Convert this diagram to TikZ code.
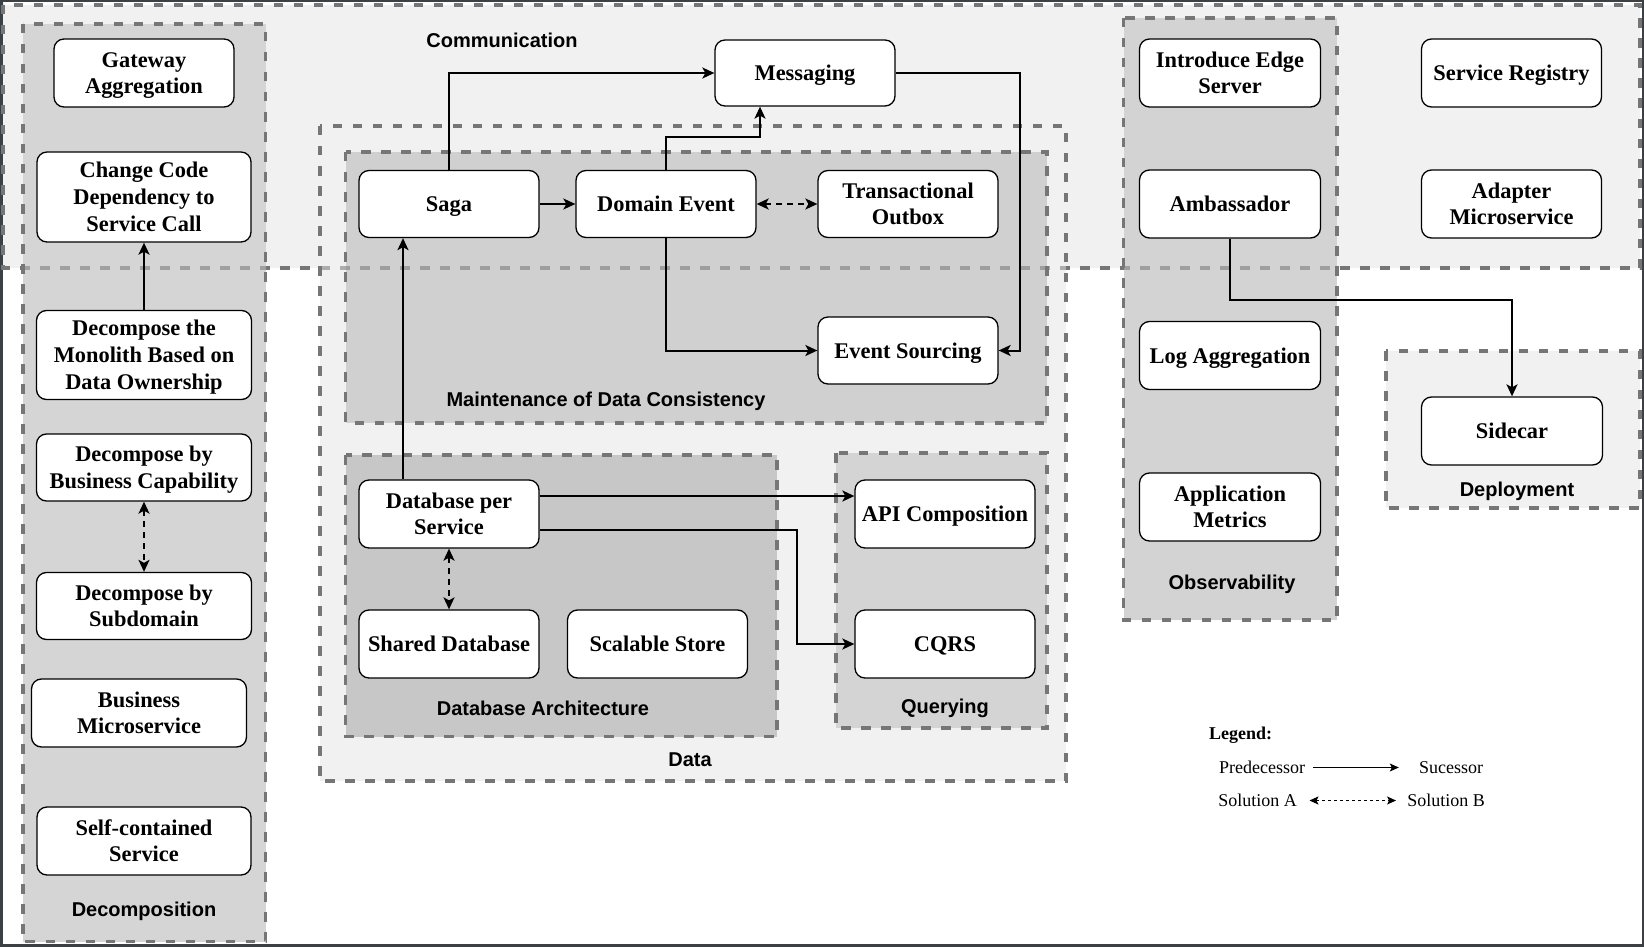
\documentclass[tikz,border=0pt]{standalone}
\usepackage{fontspec}
\setmainfont{Liberation Serif}
\newfontfamily\lsans{Liberation Sans}
\usetikzlibrary{arrows.meta,calc}
\definecolor{framec}{HTML}{3B4045}
\definecolor{lightfill}{HTML}{F1F1F1}
\definecolor{decfill}{HTML}{D5D5D5}
\definecolor{maintfill}{HTML}{D0D0D0}
\definecolor{dbfill}{HTML}{C7C7C7}
\definecolor{qfill}{HTML}{D4D4D4}
\definecolor{obsfill}{HTML}{D3D3D3}
\definecolor{regline}{HTML}{767676}
\newcommand\bst{\rule[-5.85pt]{0pt}{26.7pt}}
\begin{document}
\begin{tikzpicture}[x=1pt,y=-1pt,
  region/.style={draw=regline, line width=3.2pt, dash pattern=on 9.5pt off 10.5pt},
  box/.style={draw=black, line width=1.3pt, rounded corners=10pt, fill=white, align=center, inner sep=0pt,
    font=\fontsize{22.4}{26.7}\selectfont\bfseries},
  glabel/.style={font=\lsans\fontsize{20}{24}\selectfont\bfseries, inner sep=0pt},
  legtext/.style={font=\fontsize{18}{21}\selectfont, inner sep=0pt},
  arr/.style={line width=2pt, -{Stealth[length=12pt,width=11pt,inset=3pt]}},
  darr/.style={line width=2pt, dash pattern=on 6pt off 5pt,
    {Stealth[length=12pt,width=11pt,inset=3pt]}-{Stealth[length=12pt,width=11pt,inset=3pt]}},
  larr/.style={line width=1.2pt, -{Stealth[length=9pt,width=8pt,inset=2pt]}},
  ldarr/.style={line width=1.2pt, dash pattern=on 3pt off 3pt,
    {Stealth[length=9pt,width=8pt,inset=2pt]}-{Stealth[length=9pt,width=8pt,inset=2pt]}},
]
\useasboundingbox (0,0) rectangle (1644,947);
% frame
\fill[framec] (0,0) rectangle (1644,947);
\fill[white] (2.5,2.5) rectangle (1641.5,944);

% regions
\filldraw[region, fill=lightfill] (3,5) rectangle (1640,268);
\filldraw[region, fill=decfill] (23,24) rectangle (265.5,941.5);
\filldraw[region, fill=lightfill] (320,126) rectangle (1066,781);
\filldraw[region, fill=maintfill] (345.5,152) rectangle (1047,423);
\filldraw[region, fill=dbfill] (345.5,455) rectangle (777,736.5);
\filldraw[region, fill=qfill] (836,453) rectangle (1047,728);
\filldraw[region, fill=obsfill] (1123.5,18) rectangle (1337,620);
\filldraw[region, fill=lightfill] (1386,351) rectangle (1640,508);
\draw[region, draw opacity=0.55] (3,5) rectangle (1640,268);

% group labels
\node[glabel] (lcomm) at (502,40) {Communication};
\node[glabel] (ldec) at (144,911) {Decomposition};
\node[glabel] (ldata) at (690,760) {Data};
\node[glabel] (lmaint) at (606,401) {Maintenance of Data Consistency};
\node[glabel] (ldb) at (543,708.5) {Database Architecture};
\node[glabel] (lq) at (945,708) {Querying};
\node[glabel] (lobs) at (1232,584) {Observability};
\node[glabel] (ldep) at (1517,491) {Deployment};

% decomposition nodes
\node[box, minimum width=180pt, minimum height=68pt] (gw) at (144,73) {\bst Gateway\\\bst Aggregation};
\node[box, minimum width=214pt, minimum height=90pt] (cc) at (144,197) {\bst Change Code\\\bst Dependency to\\\bst Service Call};
\node[box, minimum width=215pt, minimum height=89pt] (mono) at (144,355) {\bst Decompose the\\\bst Monolith Based on\\\bst Data Ownership};
\node[box, minimum width=215pt, minimum height=67pt] (bc) at (144,467.5) {\bst Decompose by\\\bst Business Capability};
\node[box, minimum width=215pt, minimum height=67pt] (sd) at (144,606) {\bst Decompose by\\\bst Subdomain};
\node[box, minimum width=215pt, minimum height=68pt] (bm) at (139,713) {\bst Business\\\bst Microservice};
\node[box, minimum width=214pt, minimum height=68pt] (sc) at (144,841) {\bst Self-contained\\\bst Service};

% communication / data nodes
\node[box, minimum width=180pt, minimum height=66pt] (msg) at (805,73) {\bst Messaging};
\node[box, minimum width=180pt, minimum height=67pt] (saga) at (449,204) {\bst Saga};
\node[box, minimum width=180pt, minimum height=67pt] (de) at (666,204) {\bst Domain Event};
\node[box, minimum width=180pt, minimum height=67pt] (to) at (908,204) {\bst Transactional\\\bst Outbox};
\node[box, minimum width=180pt, minimum height=67pt] (es) at (908,350.5) {\bst Event Sourcing};
\node[box, minimum width=180pt, minimum height=68pt] (dbps) at (449,514) {\bst Database per\\\bst Service};
\node[box, minimum width=180pt, minimum height=68pt] (shdb) at (449,644) {\bst Shared Database};
\node[box, minimum width=180pt, minimum height=68pt] (ss) at (657.5,644) {\bst Scalable Store};
\node[box, minimum width=180pt, minimum height=68pt] (api) at (945,514) {\bst API Composition};
\node[box, minimum width=180pt, minimum height=68pt] (cqrs) at (945,644) {\bst CQRS};

% observability / other nodes
\node[box, minimum width=181pt, minimum height=68pt] (ies) at (1230,73) {\bst Introduce Edge\\\bst Server};
\node[box, minimum width=181pt, minimum height=68pt] (amb) at (1230,204) {\bst Ambassador};
\node[box, minimum width=181pt, minimum height=68pt] (log) at (1230,355.5) {\bst Log Aggregation};
\node[box, minimum width=181pt, minimum height=68pt] (am) at (1230,507) {\bst Application\\\bst Metrics};
\node[box, minimum width=180pt, minimum height=68pt] (sr) at (1511.5,73) {\bst Service Registry};
\node[box, minimum width=180pt, minimum height=68pt] (adapt) at (1511.5,204) {\bst Adapter\\\bst Microservice};
\node[box, minimum width=181pt, minimum height=68pt] (side) at (1512,431) {\bst Sidecar};

% connectors
\draw[arr] (mono.north) -- (cc.south);
\draw[darr] (bc.south) -- (sd.north);
\draw[arr] (saga.north) |- (msg.west);
\draw[arr] (de.north) -- ++(0,-33) -| ($(msg.south)+(-45,0)$);
\draw[arr] (msg.east) -- ++(124.5,0) |- (es.east);
\draw[arr] (saga.east) -- (de.west);
\draw[darr] (de.east) -- (to.west);
\draw[arr] (de.south) |- (es.west);
\draw[arr] ($(dbps.north)+(-46,0)$) -- ($(saga.south)+(-46,0)$);
\draw[arr] ($(dbps.east)+(0,-18)$) -- ($(api.west)+(0,-18)$);
\draw[arr] ($(dbps.east)+(0,16)$) -- ++(257.5,0) |- (cqrs.west);
\draw[darr] (dbps.south) -- (shdb.north);
\draw[arr] (amb.south) -- ++(0,61.5) -| (side.north);

% legend
\node[legtext, anchor=west, font=\fontsize{18}{21}\selectfont\bfseries] (lg) at (1209,735) {Legend:};
\node[legtext] (pred) at (1262,767.5) {Predecessor};
\node[legtext] (succ) at (1451,767.5) {Sucessor};
\node[legtext] (sola) at (1257.5,800.5) {Solution A};
\node[legtext] (solb) at (1446,800.5) {Solution B};
\draw[larr] ([xshift=8pt]pred.east) -- ([xshift=-20pt]succ.west);
\draw[ldarr] ([xshift=12.5pt]sola.east) -- ([xshift=-11pt]solb.west);
\end{tikzpicture}
\end{document}
